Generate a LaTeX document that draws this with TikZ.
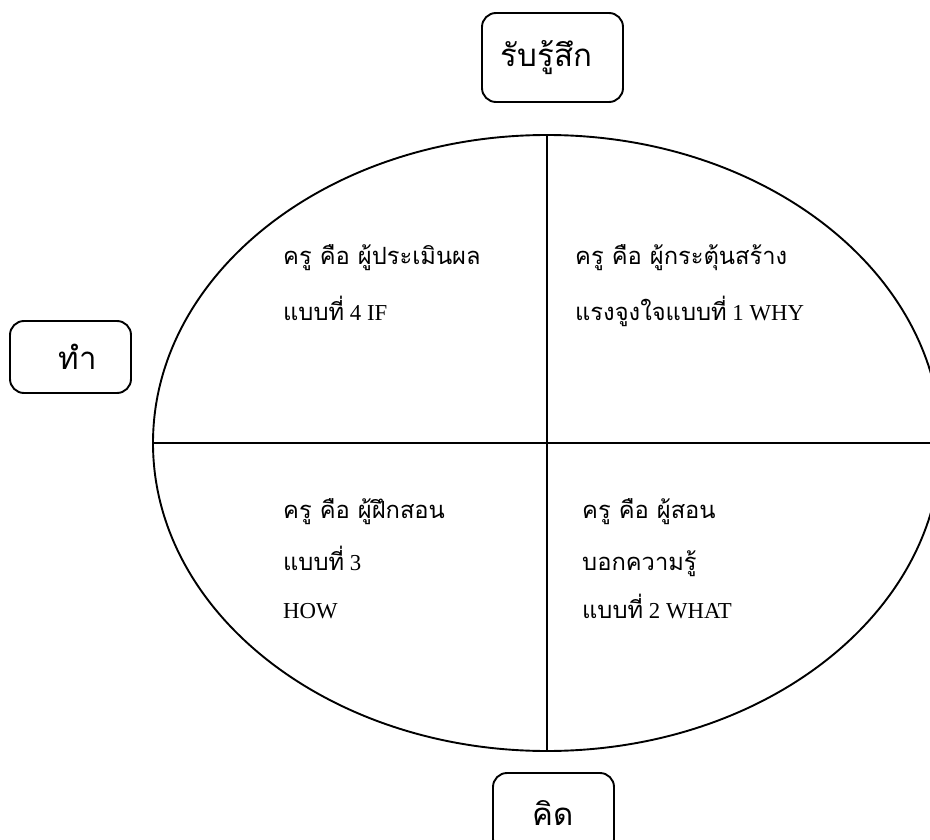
\documentclass[tikz,border=0pt]{standalone}
\usepackage{fontspec}
\setmainfont{Liberation Serif}
\newfontfamily\thai[Script=Thai,Scale=1.04]{Loma}
\tikzset{
  lbl/.style={draw=black, line width=1.9pt, rounded corners=14pt, fill=white, inner sep=0pt, font=\fontsize{30}{30}\selectfont},
  qtext/.style={anchor=base west, inner sep=0pt, font=\fontsize{22.8}{22.8}\selectfont},
  divline/.style={line width=1.9pt},
}
\begin{document}
\begin{tikzpicture}[x=1pt,y=-1pt]
\useasboundingbox (0,0) rectangle (930,840);
\begin{scope}
\clip (0,0) rectangle (930,840);
\draw[divline] (547,443) ellipse [x radius=394, y radius=308];
\end{scope}
\coordinate (top) at (547,135);
\coordinate (bot) at (547,751);
\coordinate (lft) at (153,443);
\coordinate (rgt) at (930,443);
\draw[divline] (top) -- (bot);
\draw[divline] (lft) -- (rgt);

\node[lbl, minimum width=141pt, minimum height=89pt] (feel) at (552.5,57.5) {\thai รับรู้สึก\hspace*{12pt}};
\node[lbl, minimum width=121pt, minimum height=72pt] (do) at (70.5,357) {\hspace*{14pt}\thai ทำ};
\node[lbl, minimum width=121pt, minimum height=80pt] (think) at (553.5,813) {\thai คิด};

\node[qtext] (q4a) at (283,265) {\thai ครู คือ ผู้ประเมินผล};
\node[qtext] (q4b) at (283,320) {{\thai แบบที่} 4 IF};
\node[qtext] (q1a) at (575,265) {\thai ครู คือ ผู้กระตุ้นสร้าง};
\node[qtext] (q1b) at (575,320) {{\thai แรงจูงใจแบบที่} 1 WHY};
\node[qtext] (q3a) at (283,518) {\thai ครู คือ ผู้ฝึกสอน};
\node[qtext] (q3b) at (283,570) {{\thai แบบที่} 3};
\node[qtext] (q3c) at (283,618) {HOW};
\node[qtext] (q2a) at (582,518) {\thai ครู คือ ผู้สอน};
\node[qtext] (q2b) at (582,570) {\thai บอกความรู้};
\node[qtext] (q2c) at (582,618) {{\thai แบบที่} 2 WHAT};
\end{tikzpicture}
\end{document}
